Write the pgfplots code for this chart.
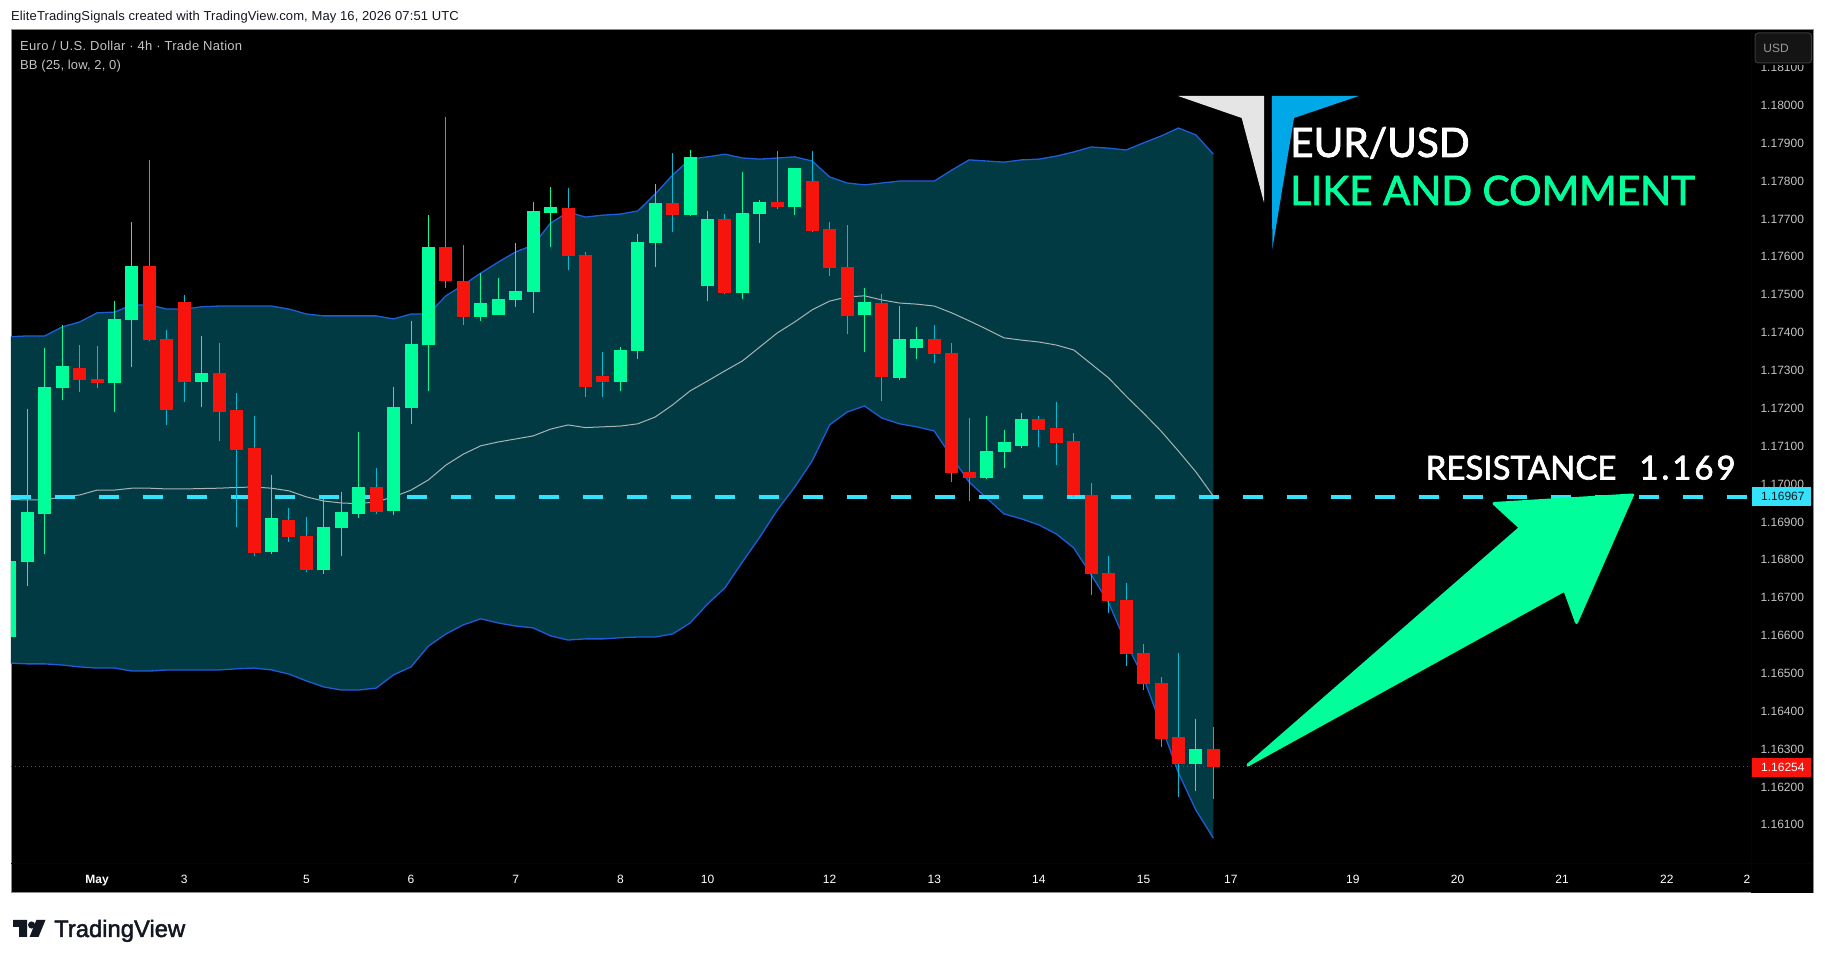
\documentclass[border=0pt]{standalone}
\usepackage{pgfplots}
\usepackage{pgfplotstable}
\usepackage{fontspec}
\pgfplotsset{compat=1.18}
\setmainfont{Liberation Sans}
\newfontfamily\banner[FakeBold=2]{Lato}
\newfontfamily\brand[FakeBold=2]{Liberation Sans}
\definecolor{upg}{HTML}{00FF9A}
\definecolor{dnr}{HTML}{F7140D}
\definecolor{wickr}{HTML}{00BCD4}
\definecolor{bandfill}{HTML}{023A44}
\definecolor{bandline}{HTML}{1F5CD8}
\definecolor{midline}{HTML}{A9B4B4}
\definecolor{resline}{HTML}{33E3FB}
\definecolor{tvdark}{HTML}{131722}
\definecolor{pricegrey}{HTML}{C4C4C4}
\definecolor{logoblue}{HTML}{00A8E8}
% i wickhigh bodytop bodybottom wicklow
\pgfplotstableread{
i H T B L
0 1.16797 1.16797 1.16596 1.16596
1 1.17198 1.16927 1.16794 1.16731
2 1.17359 1.17256 1.16922 1.16816
3 1.17420 1.17312 1.17254 1.17222
6 1.17483 1.17436 1.17267 1.17190
7 1.17692 1.17576 1.17433 1.17309
11 1.17391 1.17293 1.17270 1.17203
15 1.17024 1.16909 1.16821 1.16814
18 1.16961 1.16887 1.16774 1.16763
19 1.16980 1.16925 1.16885 1.16811
20 1.17137 1.16993 1.16920 1.16911
22 1.17256 1.17203 1.16930 1.16917
23 1.17431 1.17370 1.17201 1.17159
24 1.17710 1.17626 1.17367 1.17246
27 1.17557 1.17478 1.17441 1.17431
28 1.17544 1.17489 1.17446 1.17446
29 1.17636 1.17510 1.17486 1.17468
30 1.17745 1.17721 1.17507 1.17452
31 1.17784 1.17732 1.17716 1.17626
35 1.17362 1.17354 1.17270 1.17246
36 1.17660 1.17639 1.17351 1.17330
37 1.17792 1.17742 1.17636 1.17573
39 1.17882 1.17864 1.17710 1.17708
40 1.17721 1.17700 1.17523 1.17483
42 1.17824 1.17716 1.17505 1.17489
43 1.17750 1.17745 1.17713 1.17636
45 1.17835 1.17835 1.17732 1.17710
49 1.17518 1.17481 1.17446 1.17349
51 1.17470 1.17383 1.17280 1.17275
52 1.17415 1.17383 1.17359 1.17330
56 1.17180 1.17087 1.17016 1.17013
57 1.17143 1.17111 1.17085 1.17042
58 1.17187 1.17172 1.17101 1.17095
68 1.16379 1.16300 1.16261 1.16189
}\upc
\pgfplotstableread{
i H T B L
4 1.17367 1.17306 1.17275 1.17243
5 1.17364 1.17277 1.17267 1.17254
8 1.17856 1.17576 1.17380 1.17378
9 1.17407 1.17383 1.17196 1.17156
10 1.17499 1.17481 1.17270 1.17217
12 1.17372 1.17293 1.17190 1.17114
13 1.17240 1.17196 1.17090 1.16887
14 1.17180 1.17095 1.16818 1.16809
16 1.16937 1.16906 1.16861 1.16847
17 1.16914 1.16863 1.16774 1.16768
21 1.17042 1.16993 1.16927 1.16922
25 1.17969 1.17626 1.17536 1.17518
26 1.17631 1.17536 1.17441 1.17420
32 1.17782 1.17729 1.17602 1.17565
33 1.17613 1.17605 1.17256 1.17230
34 1.17349 1.17285 1.17270 1.17230
38 1.17874 1.17742 1.17710 1.17665
41 1.17713 1.17700 1.17505 1.17502
44 1.17879 1.17745 1.17732 1.17726
46 1.17879 1.17800 1.17668 1.17665
47 1.17692 1.17673 1.17571 1.17549
48 1.17684 1.17573 1.17444 1.17396
50 1.17502 1.17478 1.17283 1.17219
53 1.17420 1.17383 1.17343 1.17320
54 1.17372 1.17346 1.17029 1.17005
55 1.17174 1.17032 1.17016 1.16955
59 1.17180 1.17172 1.17143 1.17098
60 1.17217 1.17148 1.17108 1.17050
61 1.17135 1.17114 1.16971 1.16966
62 1.17003 1.16971 1.16762 1.16707
63 1.16810 1.16765 1.16691 1.16659
64 1.16739 1.16694 1.16551 1.16519
65 1.16578 1.16554 1.16472 1.16456
66 1.16490 1.16475 1.16327 1.16306
67 1.16554 1.16332 1.16261 1.16173
69 1.16358 1.16300 1.16253 1.16168
}\dnc
\pgfplotstableread{
i up mid low
0 1.17389 1.16959 1.16527
1 1.17391 1.16958 1.16525
2 1.17391 1.16958 1.16525
3 1.17415 1.16966 1.16522
4 1.17428 1.16971 1.16517
5 1.17452 1.16984 1.16514
6 1.17454 1.16984 1.16514
7 1.17473 1.16989 1.16506
8 1.17473 1.16989 1.16506
9 1.17462 1.16987 1.16509
10 1.17462 1.16987 1.16509
11 1.17468 1.16988 1.16509
12 1.17470 1.16989 1.16509
13 1.17470 1.16991 1.16512
14 1.17470 1.16992 1.16514
15 1.17470 1.16989 1.16509
16 1.17462 1.16982 1.16498
17 1.17449 1.16966 1.16480
18 1.17444 1.16955 1.16464
19 1.17444 1.16950 1.16456
20 1.17444 1.16948 1.16456
21 1.17444 1.16953 1.16461
22 1.17436 1.16966 1.16496
23 1.17449 1.16984 1.16517
24 1.17449 1.17011 1.16572
25 1.17497 1.17050 1.16604
26 1.17526 1.17079 1.16628
27 1.17557 1.17101 1.16644
28 1.17586 1.17111 1.16633
29 1.17613 1.17119 1.16625
30 1.17631 1.17127 1.16620
31 1.17689 1.17145 1.16599
32 1.17718 1.17156 1.16588
33 1.17705 1.17149 1.16591
34 1.17710 1.17151 1.16591
35 1.17713 1.17153 1.16594
36 1.17721 1.17159 1.16596
37 1.17766 1.17177 1.16596
38 1.17816 1.17209 1.16604
39 1.17858 1.17246 1.16633
40 1.17864 1.17272 1.16683
41 1.17871 1.17299 1.16726
42 1.17861 1.17325 1.16794
43 1.17858 1.17362 1.16860
44 1.17861 1.17399 1.16931
45 1.17864 1.17428 1.16992
46 1.17853 1.17460 1.17061
47 1.17811 1.17483 1.17156
48 1.17795 1.17494 1.17190
49 1.17790 1.17497 1.17206
50 1.17795 1.17486 1.17174
51 1.17800 1.17478 1.17159
52 1.17800 1.17475 1.17151
53 1.17800 1.17470 1.17140
54 1.17829 1.17452 1.17071
55 1.17856 1.17431 1.17005
56 1.17853 1.17409 1.16963
57 1.17850 1.17386 1.16921
58 1.17856 1.17380 1.16908
59 1.17858 1.17375 1.16892
60 1.17866 1.17367 1.16868
61 1.17877 1.17354 1.16831
62 1.17890 1.17317 1.16760
63 1.17887 1.17280 1.16686
64 1.17882 1.17232 1.16580
65 1.17901 1.17187 1.16488
66 1.17919 1.17140 1.16364
67 1.17940 1.17087 1.16237
68 1.17922 1.17032 1.16139
69 1.17871 1.16968 1.16065
}\bands
% outline of the band area: the upper band forward, the lower band back
\pgfplotstableread{
i p
0 1.17389
1 1.17391
2 1.17391
3 1.17415
4 1.17428
5 1.17452
6 1.17454
7 1.17473
8 1.17473
9 1.17462
10 1.17462
11 1.17468
12 1.17470
13 1.17470
14 1.17470
15 1.17470
16 1.17462
17 1.17449
18 1.17444
19 1.17444
20 1.17444
21 1.17444
22 1.17436
23 1.17449
24 1.17449
25 1.17497
26 1.17526
27 1.17557
28 1.17586
29 1.17613
30 1.17631
31 1.17689
32 1.17718
33 1.17705
34 1.17710
35 1.17713
36 1.17721
37 1.17766
38 1.17816
39 1.17858
40 1.17864
41 1.17871
42 1.17861
43 1.17858
44 1.17861
45 1.17864
46 1.17853
47 1.17811
48 1.17795
49 1.17790
50 1.17795
51 1.17800
52 1.17800
53 1.17800
54 1.17829
55 1.17856
56 1.17853
57 1.17850
58 1.17856
59 1.17858
60 1.17866
61 1.17877
62 1.17890
63 1.17887
64 1.17882
65 1.17901
66 1.17919
67 1.17940
68 1.17922
69 1.17871
69 1.16065
68 1.16139
67 1.16237
66 1.16364
65 1.16488
64 1.16580
63 1.16686
62 1.16760
61 1.16831
60 1.16868
59 1.16892
58 1.16908
57 1.16921
56 1.16963
55 1.17005
54 1.17071
53 1.17140
52 1.17151
51 1.17159
50 1.17174
49 1.17206
48 1.17190
47 1.17156
46 1.17061
45 1.16992
44 1.16931
43 1.16860
42 1.16794
41 1.16726
40 1.16683
39 1.16633
38 1.16604
37 1.16596
36 1.16596
35 1.16594
34 1.16591
33 1.16591
32 1.16588
31 1.16599
30 1.16620
29 1.16625
28 1.16633
27 1.16644
26 1.16628
25 1.16604
24 1.16572
23 1.16517
22 1.16496
21 1.16461
20 1.16456
19 1.16456
18 1.16464
17 1.16480
16 1.16498
15 1.16509
14 1.16514
13 1.16512
12 1.16509
11 1.16509
10 1.16509
9 1.16509
8 1.16506
7 1.16506
6 1.16514
5 1.16514
4 1.16517
3 1.16522
2 1.16525
1 1.16525
0 1.16527
}\bandarea
\begin{document}
\begin{tikzpicture}
\path[use as bounding box,fill=white] (0,0) rectangle (1825pt,960pt);
\begin{scope}[x=1pt,y=-1pt,shift={(0,960pt)}]
\fill[black] (11,30) rectangle (1813,893);
\draw[color=black!45,line width=1pt] (11,893) -- (11,30) -- (1813,30) -- (1813,893);
\draw[color=black!45,line width=1pt] (11,893) -- (1751,893);
\draw[color=black!98,line width=.8pt] (11,863) -- (1813,863);
\draw[color=black!98,line width=.8pt] (1751,30) -- (1751,893);
\end{scope}
\begin{axis}[
  at={(11pt,97pt)},anchor=south west,
  width=1740pt,height=833pt,scale only axis,
  xmin=0.063,xmax=99.83,ymin=1.159992,ymax=1.18199,
  axis line style={draw=none},
  major tick length=0pt,
  tick style={draw=none},
  scaled y ticks=false,
  xtick={5,10,17,23,29,35,40,47,53,59,65,70,77,83,89,95,99.6},
  xticklabels={\textbf{May},3,5,6,7,8,10,12,13,14,15,17,19,20,21,22,2},
  ytick={1.161,1.162,1.163,1.164,1.165,1.166,1.167,1.168,1.169,1.170,1.171,1.172,1.173,1.174,1.175,1.176,1.177,1.178,1.179,1.180,1.181},
  yticklabel pos=right,
  yticklabel style={anchor=west,xshift=6pt,color=pricegrey,
    /pgf/number format/.cd,fixed,fixed zerofill,precision=5,1000 sep={},assume math mode=true},
  xticklabel style={color=white,yshift=-8.5pt},
  tick label style={font=\fontsize{12}{14}\selectfont},
  clip=true,
]
\addplot[fill=bandfill,draw=none,forget plot] table[x=i,y=p]{\bandarea} -- cycle;
\addplot[bandline,line width=1.3pt,forget plot] table[x=i,y=up]{\bands};
\addplot[bandline,line width=1.3pt,forget plot] table[x=i,y=low]{\bands};
\addplot[midline,line width=1pt,forget plot] table[x=i,y=mid]{\bands};
% current price and resistance level
\addplot[dnr,line width=.8pt,dash pattern=on 1pt off 3pt,forget plot] coordinates {(0.063,1.16254)(99.83,1.16254)};
\addplot[resline,line width=4pt,dash pattern=on 20pt off 24pt,forget plot] coordinates {(0.063,1.16967)(99.83,1.16967)};
% wicks
\addplot[draw=none,mark=none,forget plot,error bars/.cd,y dir=minus,y explicit,error mark=none,
  error bar style={draw=upg,line width=1pt}]
  table[x=i,y=H,y error minus expr=\thisrow{H}-\thisrow{L}]{\upc};
\addplot[draw=none,mark=none,forget plot,error bars/.cd,y dir=minus,y explicit,error mark=none,
  error bar style={draw=wickr,line width=1pt}]
  table[x=i,y=H,y error minus expr=\thisrow{H}-\thisrow{L}]{\dnc};
% bodies
\addplot[draw=none,mark=none,forget plot,error bars/.cd,y dir=minus,y explicit,error mark=none,
  error bar style={draw=upg,line width=13pt}]
  table[x=i,y=T,y error minus expr=\thisrow{T}-\thisrow{B}]{\upc};
\addplot[draw=none,mark=none,forget plot,error bars/.cd,y dir=minus,y explicit,error mark=none,
  error bar style={draw=dnr,line width=13pt}]
  table[x=i,y=T,y error minus expr=\thisrow{T}-\thisrow{B}]{\dnc};
\end{axis}
\begin{scope}[x=1pt,y=-1pt,shift={(0,960pt)}]
% arrow
\fill[upg,draw=upg,line width=3pt,line join=round] (1248,765) -- (1520.4,527.7) -- (1494,503.5) -- (1632.5,495) -- (1576.5,622.5) -- (1564.8,590) -- cycle;
% logo
\fill[black!10] (1178,96) -- (1264,96) -- (1264,202.7) -- (1241.7,118) -- cycle;
\fill[logoblue] (1271.8,96) -- (1358.8,96) -- (1294,118) -- (1272.3,249.3) -- cycle;
% banner text
\node[anchor=base west,inner sep=0,text=white] at (1290,157) {\banner\fontsize{40.5}{41}\selectfont EUR/USD};
\node[anchor=base west,inner sep=0,text=upg] at (1290,205) {\banner\fontsize{40.5}{41}\selectfont LIKE AND COMMENT};
\node[anchor=base west,inner sep=0,text=white] at (1425.5,479.5) {\banner\fontsize{33}{33}\selectfont RESISTANCE\hspace{23pt}\addfontfeature{LetterSpace=9}1.169};
% header
\node[anchor=base west,inner sep=0,text=tvdark] at (11,21) {\fontsize{13}{14}\selectfont\addfontfeature{LetterSpace=0.9}EliteTradingSignals created with TradingView.com, May 16, 2026 07:51 UTC};
\node[anchor=base west,inner sep=0,text=pricegrey] at (20,51) {\fontsize{13}{14}\selectfont\addfontfeature{LetterSpace=2.3}Euro / U.S. Dollar · 4h · Trade Nation};
\node[anchor=base west,inner sep=0,text=pricegrey] at (20,70) {\fontsize{13}{14}\selectfont\addfontfeature{LetterSpace=1}BB (25, low, 2, 0)};
% USD box
\fill[black] (1752,62) rectangle (1812,65.5);
\filldraw[fill=black!92,draw=black!78,rounded corners=3pt,line width=1pt] (1755,33) rectangle (1811.5,63);
\node[text=black!40,inner sep=0] at (1776,48) {\fontsize{12}{14}\selectfont USD};
% price tags
\fill[resline] (1752,487) rectangle (1810.5,506);
\node[anchor=west,inner sep=0,text=tvdark] at (1761,496.5) {\fontsize{12}{14}\selectfont 1.16967};
\fill[dnr] (1752,758) rectangle (1810.5,777);
\node[anchor=west,inner sep=0,text=white] at (1761,767.5) {\fontsize{12}{14}\selectfont 1.16254};
% TradingView brand
\fill[tvdark] (13,920) -- (27,920) -- (27,937) -- (19,937) -- (19,927) -- (13,927) -- cycle;
\fill[tvdark] (31.6,925) circle (3.6);
\fill[tvdark] (36.4,920) -- (45.5,920) -- (38.5,937) -- (29.6,937) -- cycle;
\node[anchor=base west,inner sep=0,text=tvdark] at (54,937) {\brand\fontsize{23.8}{23}\selectfont TradingView};
\end{scope}
\end{tikzpicture}
\end{document}
